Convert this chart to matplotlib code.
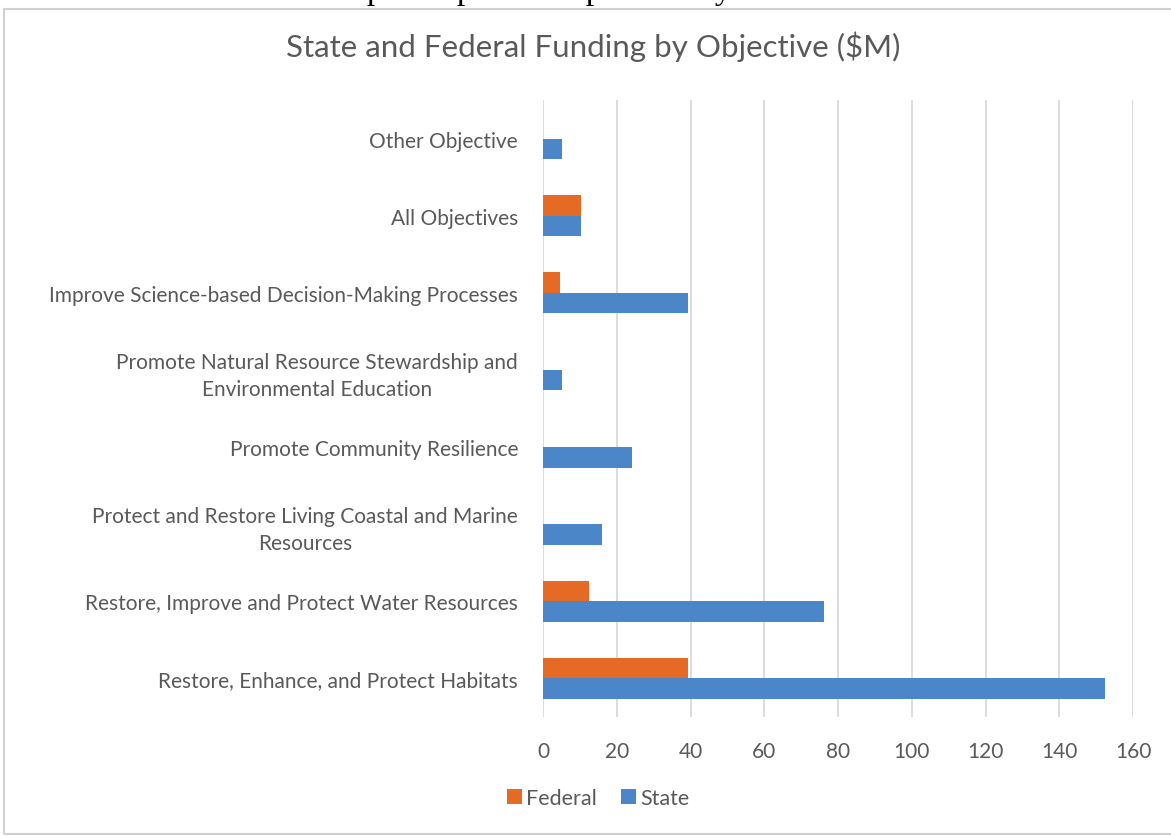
import matplotlib.pyplot as plt
from matplotlib.patches import Rectangle
from matplotlib.transforms import Affine2D
import numpy as np

plt.rcParams['font.family'] = ['Lato', 'DejaVu Sans']

# objectives, bottom to top
objectives = [
    'Restore, Enhance, and Protect Habitats',
    'Restore, Improve and Protect Water Resources',
    'Protect and Restore Living Coastal and Marine\nResources',
    'Promote Community Resilience',
    'Promote Natural Resource Stewardship and\nEnvironmental Education',
    'Improve Science-based Decision-Making Processes',
    'All Objectives',
    'Other Objective',
]
federal = [39.3, 12.4, 0, 0, 0, 4.5, 10.4, 0]
state = [152.4, 76.3, 16.1, 24.1, 5.2, 39.3, 10.4, 5.2]
xticks = [0, 20, 40, 60, 80, 100, 120, 140, 160]

orange = '#E46A25'
blue = '#4A86C8'
grey = '#595959'

fig = plt.figure(figsize=(11.71, 8.37), dpi=100)

# chart frame and the caption line above it
fig.patches.append(Rectangle((4 / 1171, 0.002), 1.2, (829 - 4) / 837,
                             transform=fig.transFigure, fill=False,
                             edgecolor='#d0d0d0', linewidth=1.5))
fig.text(8 / 1171, 1 + 1 / 837, 'Selected Restoration and Spill Impact Components by Watershed',
         family='Liberation Serif', fontsize=24, color='black', va='baseline')

ax = fig.add_axes([543 / 1171, 1 - 718 / 837, (1133 - 543) / 1171, (718 - 101) / 837])
y = np.arange(len(objectives))
h = 0.265
ax.barh(y + h / 2, federal, height=h, color=orange, label='Federal')
ax.barh(y - h / 2, state, height=h, color=blue, label='State')

ax.set_xlim(0, 160)
ax.set_ylim(-0.5, len(objectives) - 0.5)
ax.set_xticks(xticks)
ax.set_yticks(y)
ax.set_yticklabels(objectives, ha='center', fontsize=15, color=grey, linespacing=1.45)
ax.tick_params(axis='y', length=0, pad=0)
ax.tick_params(axis='x', length=0, pad=17, labelsize=15, labelcolor=grey)
ax.xaxis.grid(True, color='#d9d9d9', linewidth=1.3)
ax.set_axisbelow(True)
for s in ax.spines.values():
    s.set_visible(False)

# right-align wrapped labels against the axis while keeping lines centred
fig.canvas.draw()
renderer = fig.canvas.get_renderer()
for lbl in ax.get_yticklabels():
    bb = lbl.get_window_extent(renderer)
    dx = 518 - bb.x1
    lbl.set_transform(lbl.get_transform() + Affine2D().translate(dx, 0))

fig.text(593 / 1171, 1 - 47 / 837, 'State and Federal Funding by Objective ($M)',
         ha='center', va='center', fontsize=22.5, color=grey)

fig.legend(loc='center', bbox_to_anchor=(598 / 1171, 1 - 799 / 837), ncol=2, frameon=False,
           fontsize=15.5, labelcolor=grey, handlelength=0.7, handleheight=0.7,
           handletextpad=0.2, columnspacing=1.1)

fig.savefig('out.png', dpi=100)
